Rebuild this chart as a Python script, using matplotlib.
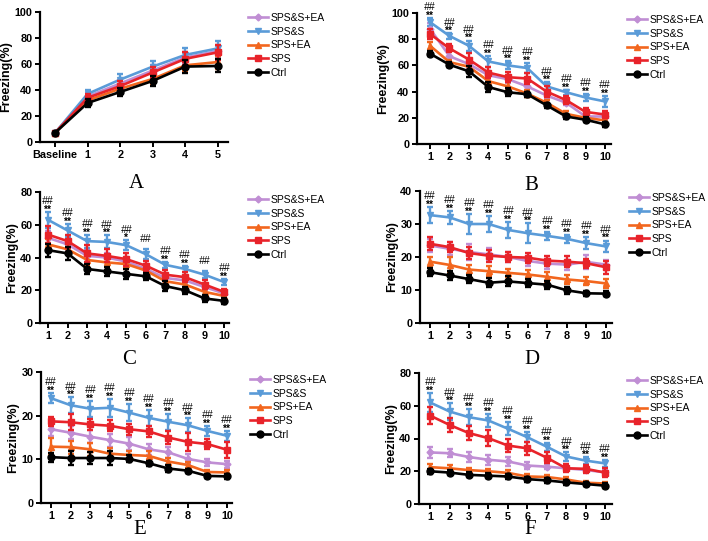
import matplotlib
matplotlib.use("Agg")
import matplotlib.pyplot as plt

plt.rcParams['font.family'] = ['Liberation Sans', 'DejaVu Sans']

groups = ["SPS&S+EA", "SPS&S", "SPS+EA", "SPS", "Ctrl"]
colors = ["#C08ED4", "#5A9BD8", "#F2661E", "#E8232A", "#000000"]
markers = ["D", "v", "^", "s", "o"]
msizes = [3.5, 5, 5, 5, 5]

# panel A (baseline + 5 trials)
A_x = ["Baseline", "1", "2", "3", "4", "5"]
A_mean = [[7, 35, 45, 55, 65, 70],
          [7, 37, 48, 58, 67, 72],
          [7, 32, 41, 48.5, 59, 61.5],
          [7, 34, 43, 53.5, 64, 69],
          [7, 30, 38.5, 47, 58, 58.5]]
A_err = [[1, 3, 3, 4, 4, 5],
         [1, 3, 4, 4, 5, 6],
         [1, 3, 3, 4, 4, 5],
         [1, 3, 4, 4, 5, 6],
         [1, 3, 3, 4, 5, 5]]

# panels B-F (trials 1-10)
trials = [1, 2, 3, 4, 5, 6, 7, 8, 9, 10]

B_mean = [[88, 67, 61, 52.5, 49.5, 44, 37, 31.5, 21, 21],
          [93, 82.5, 75, 63, 60, 58, 44, 39.5, 35.5, 32.5],
          [75, 62.5, 59, 48, 44, 38.5, 31.5, 23, 20, 18],
          [84, 73, 64.5, 54.5, 51, 50, 40, 33.5, 24.5, 22.5],
          [69, 60.5, 55.5, 43.5, 39.5, 38, 29.5, 21, 18.5, 15]]
B_err = [[4, 4, 4, 3, 3, 3, 3, 2, 2, 2],
         [3, 2, 4, 4, 3, 4, 3, 2, 3, 4],
         [3, 2, 3, 3, 3, 3, 2, 2, 2, 2],
         [4, 3, 5, 4, 4, 4, 4, 3, 3, 3],
         [2, 2, 4, 4, 3, 2, 2, 2, 2, 2]]
B_sig = [("##", "**")] * 10

C_mean = [[52, 48, 41, 40, 37.5, 33, 27.5, 26, 22, 18],
          [63, 56.5, 50, 49.5, 47.5, 42, 35.5, 33, 29.5, 25],
          [48, 45, 38.5, 37, 36, 32, 25.5, 23.5, 19, 16.5],
          [54, 50, 42.5, 41, 39, 35, 29.5, 28, 23.5, 19],
          [44.5, 42.5, 33, 31.5, 30, 28.5, 22.5, 20, 15, 13.5]]
C_err = [[4, 4, 4, 3, 3, 3, 2, 2, 2, 2],
         [5, 4, 4, 4, 3, 3, 2, 2, 2, 2],
         [3, 3, 3, 3, 3, 2, 2, 2, 2, 2],
         [5, 4, 5, 4, 4, 3, 3, 3, 3, 2],
         [4, 4, 3, 3, 3, 2, 3, 2, 2, 2]]
C_sig = [("##", "**"), ("##", "**"), ("##", "**"), ("##", "**"), ("##", "*"),
         ("##", ""), ("##", "**"), ("##", "**"), ("##", ""), ("##", "**")]

D_mean = [[23.5, 22.5, 21.5, 20.8, 20, 18.8, 18, 17.7, 18.5, 17.7],
          [32.7, 32, 30, 30, 28.2, 27.2, 26.4, 25.5, 24.2, 23.2],
          [18.6, 17.6, 16.2, 15.7, 15.2, 14.7, 14, 13.2, 12.7, 12],
          [24, 23, 21.2, 20.4, 20, 19.8, 18.9, 18.6, 18.1, 16.9],
          [15.4, 14.4, 13.3, 12.2, 12.6, 12.1, 11.6, 9.9, 9, 8.9]]
D_err = [[2, 2, 2.5, 2, 1.5, 1.5, 1.5, 1.5, 2, 1.5],
         [2.5, 2, 3, 2.5, 2.5, 3, 1.2, 1.2, 1.8, 1.8],
         [1.5, 2.5, 1.5, 1.5, 1.3, 1.3, 1.5, 1.3, 1.3, 1.3],
         [2, 1.5, 1.8, 1.8, 1.5, 1.5, 1.5, 1.7, 1.3, 2],
         [1.3, 1.5, 1.2, 1.3, 1.5, 1.3, 1.2, 1.1, 0.8, 0.8]]
D_sig = [("##", "**")] * 10

E_mean = [[16.9, 16.1, 15.2, 14.4, 13.6, 12.3, 11.6, 10.1, 9.3, 8.9],
          [24, 22.4, 21.6, 21.8, 20.7, 19.5, 18.6, 17.8, 16.5, 15.4],
          [12.9, 12.8, 12.3, 11.3, 11, 10.8, 9.5, 8.7, 7.1, 7],
          [18.7, 18.5, 18, 17.7, 16.9, 16.4, 15, 14, 13.5, 12.2],
          [10.5, 10.3, 10.3, 10.3, 10.1, 9.1, 7.9, 7.4, 6.2, 6.1]]
E_err = [[1.5, 1.5, 1.5, 1.5, 1.5, 1.2, 1.2, 1.2, 0.8, 0.8],
         [1.2, 1.8, 1.8, 2, 2, 1.8, 1.8, 1.6, 1.2, 1.2],
         [2, 1.5, 1.5, 1.3, 1, 1, 0.8, 0.6, 0.5, 0.5],
         [1, 1.8, 1.3, 1.3, 1.3, 1.2, 1.5, 2, 1.2, 1.8],
         [1, 1.5, 1.3, 1.5, 0.8, 0.6, 0.7, 0.5, 0.5, 0.5]]
E_sig = [("##", "**")] * 10

F_mean = [[31.5, 31, 28.7, 27, 26, 23.5, 22.8, 21.8, 20.8, 19.3],
          [62, 56.5, 53, 51, 46, 40.8, 35, 29, 26.5, 24.8],
          [22.5, 21.8, 20.7, 20, 19, 16.8, 16.5, 15, 13, 12.5],
          [54, 48.3, 43.3, 40.2, 35.7, 34, 28.3, 21.8, 21.5, 19.2],
          [20, 19.2, 17.8, 17.3, 16.8, 15.2, 14.4, 13.2, 12.2, 11.2]]
F_err = [[3.5, 2.5, 3, 3, 2.5, 2, 1.5, 1.5, 1.5, 1.5],
         [6, 5, 5, 4, 4, 3, 2.5, 2.5, 2, 2],
         [2, 2, 1.5, 1.5, 1.5, 1.5, 1.5, 1.5, 1, 1],
         [5, 4.5, 4.5, 5, 4, 4, 3.5, 2.5, 2.5, 2.5],
         [1.5, 1.5, 1.5, 1.5, 1.5, 1.5, 1.5, 1.5, 1.5, 1.5]]
F_sig = [("##", "**")] * 10

W, H = 708, 541
fig = plt.figure(figsize=(W / 100, H / 100), dpi=100)


def px_axes(l, r, t, b):
    return fig.add_axes([l / W, 1 - b / H, (r - l) / W, (b - t) / H])


def draw_panel(ax, x, means, errs, ymax, ystep, xlim, leg_xy, letter, letter_xy,
               sig=None, xlabels=None):
    order = [1, 0, 2, 3, 4]
    lines = {}
    for i in order:
        ax.errorbar(x, means[i], yerr=errs[i], fmt='none', ecolor=colors[i],
                    elinewidth=1.7, capsize=2.3, capthick=1.7, zorder=2 + i)
        ln, = ax.plot(x, means[i], color=colors[i], lw=1.9, marker=markers[i],
                      ms=msizes[i], zorder=3 + i)
        lines[i] = ln
    ax.set_xlim(*xlim)
    ax.set_ylim(0, ymax)
    ax.set_yticks(range(0, ymax + 1, ystep))
    ax.set_xticks(x)
    if xlabels is not None:
        ax.set_xticklabels(xlabels)
    for s in ['top', 'right']:
        ax.spines[s].set_visible(False)
    for s in ['left', 'bottom']:
        ax.spines[s].set_linewidth(1.6)
    ax.tick_params(width=1.4, length=3.5, labelsize=7.8, pad=2)
    for t in ax.get_xticklabels() + ax.get_yticklabels():
        t.set_fontweight('bold')
    ax.set_ylabel("Freezing(%)", fontsize=9, fontweight='bold', labelpad=1.5)

    if sig is not None:
        for k, xv in enumerate(x):
            top = means[1][k] + errs[1][k]
            ax.annotate(sig[k][1], (xv, top), xytext=(0, -0.6), textcoords='offset points',
                        ha='center', va='baseline', fontsize=7.3, fontweight='bold')
            ax.annotate(sig[k][0], (xv, top), xytext=(0, 5.6), textcoords='offset points',
                        ha='center', va='baseline', fontsize=7.5, style='italic')

    ax.legend([lines[i] for i in range(5)], groups, loc='upper left',
              bbox_to_anchor=(leg_xy[0] / W, 1 - leg_xy[1] / H),
              bbox_transform=fig.transFigure, frameon=False, fontsize=7.5,
              handlelength=1.9, handletextpad=0.3, labelspacing=0.35,
              borderpad=0, borderaxespad=0)
    fig.text(letter_xy[0] / W, 1 - letter_xy[1] / H, letter, ha='center', va='center',
             fontsize=15, family='Liberation Serif')


axA = px_axes(40, 228, 12, 142)
draw_panel(axA, list(range(6)), A_mean, A_err, 100, 20, (-0.46, 5.31),
           (248, 13), "A", (136, 183), xlabels=A_x)

axB = px_axes(417, 611, 13, 144)
draw_panel(axB, trials, B_mean, B_err, 100, 20, (0.33, 10.31),
           (627, 15), "B", (531, 185), sig=B_sig)

axC = px_axes(40, 229, 192, 323)
draw_panel(axC, trials, C_mean, C_err, 80, 20, (0.59, 10.25),
           (248, 195), "C", (129, 359), sig=C_sig)

axD = px_axes(420, 612, 191, 323)
draw_panel(axD, trials, D_mean, D_err, 40, 10, (0.49, 10.31),
           (629, 193), "D", (532, 359), sig=D_sig)

axE = px_axes(41, 232, 372, 503)
draw_panel(axE, trials, E_mean, E_err, 30, 10, (0.49, 10.26),
           (250, 375), "E", (140, 530), sig=E_sig)

axF = px_axes(419, 612, 373, 504)
draw_panel(axF, trials, F_mean, F_err, 80, 20, (0.43, 10.36),
           (627, 376), "F", (530, 530), sig=F_sig)

fig.savefig("out.png", dpi=100)
